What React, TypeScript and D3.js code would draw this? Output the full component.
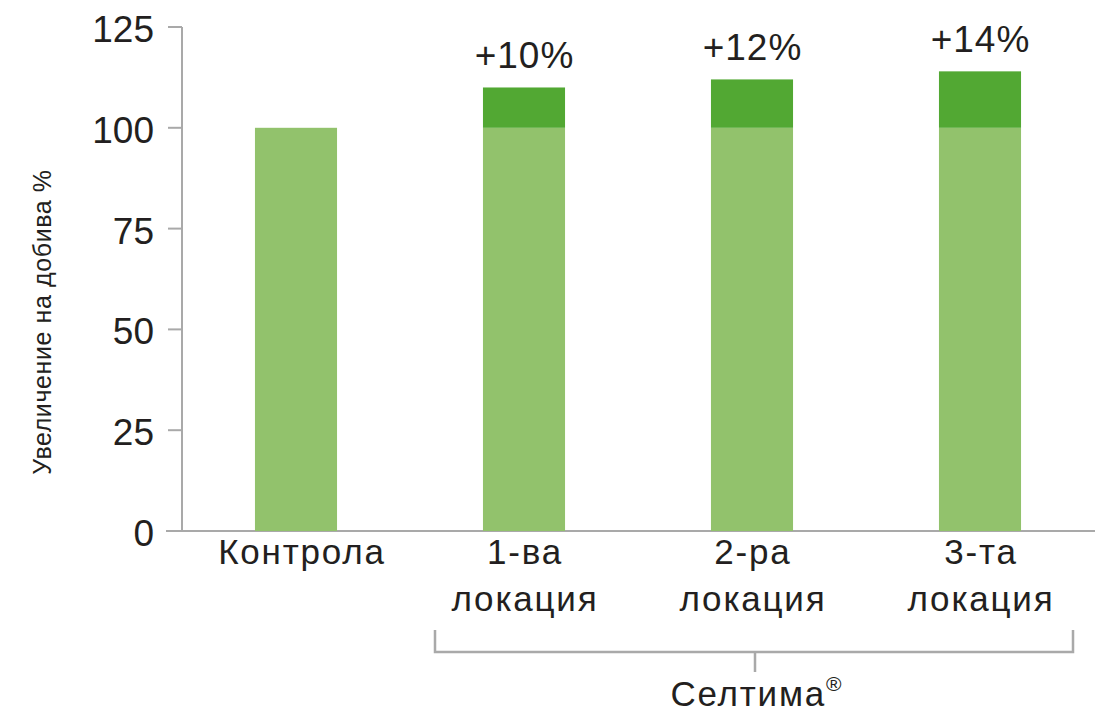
import { scaleBand, scaleLinear } from "d3";

const categories = ["Контрола", "1-ва\nлокация", "2-ра\nлокация", "3-та\nлокация"];
const baseValues = [100, 100, 100, 100];
const totalValues = [100, 110, 112, 114];
const gainLabels = ["", "+10%", "+12%", "+14%"];
const yTicks = [0, 25, 50, 75, 100, 125];
const yTitle = "Увеличение на добива %";
const groupLabel = "Селтима";

const W = 1096;
const H = 714;
const FONT = "'Liberation Sans', Arial, Helvetica, sans-serif";
const LIGHT = "#92c26c";
const DARK = "#52a833";
const AXIS = "#a9a9a9";
const TEXT = "#231f20";

export default function App() {
  const y = scaleLinear().domain([0, 125]).range([531, 27]);
  const x = scaleBand<string>()
    .domain(categories)
    .range([182, 1094])
    .paddingInner(0.64)
    .paddingOuter(0.32);
  const bw = x.bandwidth();

  // скоба под трите локации
  const bx0 = (x(categories[1]) ?? 0) + bw / 2 - 89;
  const bx1 = (x(categories[3]) ?? 0) + bw / 2 + 93;
  const bmid = (x(categories[2]) ?? 0) + bw / 2 + 3;

  return (
    <svg
      width={W}
      height={H}
      style={{ position: "absolute", left: 0, top: 0, background: "#fff" }}
      fontFamily={FONT}
    >
      {/* оси */}
      <line x1={182} x2={182} y1={y(125)} y2={y(0)} stroke={AXIS} strokeWidth={2} />
      <line x1={166} x2={1095} y1={y(0)} y2={y(0)} stroke={AXIS} strokeWidth={2} />
      {yTicks.map((t) => (
        <g key={t}>
          <line x1={168} x2={182} y1={y(t)} y2={y(t)} stroke={AXIS} strokeWidth={2} />
          <text x={154} y={y(t) + 15} textAnchor="end" fontSize={37} fill={TEXT}>
            {t}
          </text>
        </g>
      ))}
      <text
        transform={`translate(51,${322}) rotate(-90)`}
        textAnchor="middle"
        fontSize={25}
        letterSpacing={0.6}
        fill={TEXT}
      >
        {yTitle}
      </text>

      {/* колони */}
      {categories.map((c, i) => {
        const x0 = x(c) ?? 0;
        return (
          <g key={c}>
            <rect x={x0} width={bw} y={y(baseValues[i])} height={y(0) - y(baseValues[i])} fill={LIGHT} />
            {totalValues[i] > baseValues[i] && (
              <rect
                x={x0}
                width={bw}
                y={y(totalValues[i])}
                height={y(baseValues[i]) - y(totalValues[i])}
                fill={DARK}
              />
            )}
            {gainLabels[i] && (
              <text
                x={x0 + bw / 2 + 0.5}
                y={y(totalValues[i]) - 19}
                textAnchor="middle"
                fontSize={37}
                letterSpacing={1}
                fill={TEXT}
              >
                {gainLabels[i]}
              </text>
            )}
            {c.split("\n").map((ln, j) => (
              <text
                key={j}
                x={x0 + bw / 2 + (i === 0 ? 6 : 1)}
                y={564 + j * 47}
                textAnchor="middle"
                fontSize={35}
                letterSpacing={1.8}
                fill={TEXT}
              >
                {ln}
              </text>
            ))}
          </g>
        );
      })}

      {/* Селтима */}
      <path
        d={`M${bx0},630V652H${bx1}V630M${bmid},652V672`}
        fill="none"
        stroke={AXIS}
        strokeWidth={2.5}
      />
      <text x={bmid + 1} y={706} textAnchor="middle" fontSize={35} letterSpacing={1.8} fill={TEXT}>
        {groupLabel}
        <tspan fontSize={21} dy={-15} letterSpacing={0}>®</tspan>
      </text>
    </svg>
  );
}
